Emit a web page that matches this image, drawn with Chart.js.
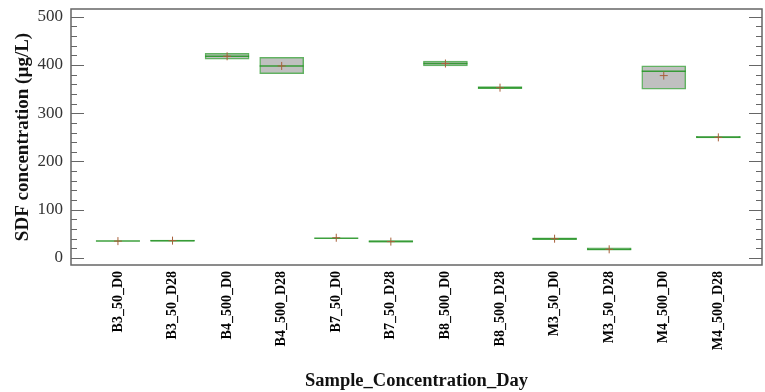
<!DOCTYPE html>
<html>
<head>
<meta charset="utf-8">
<script src="https://cdn.jsdelivr.net/npm/chart.js@4.4.1/dist/chart.umd.min.js"></script>
<style>
  html, body { margin: 0; padding: 0; background: #fff; }
  #wrap { width: 765px; height: 392px; }
</style>
</head>
<body>
<div id="wrap"><canvas id="c" width="765" height="392"></canvas></div>
<script>
// boîtes : q1 / q3, médiane et moyenne
const labels  = ['B3_50_D0', 'B3_50_D28', 'B4_500_D0', 'B4_500_D28', 'B7_50_D0', 'B7_50_D28',
                 'B8_500_D0', 'B8_500_D28', 'M3_50_D0', 'M3_50_D28', 'M4_500_D0', 'M4_500_D28'];
const q1      = [35, 35, 412, 382, 41, 33, 398, 351, 38, 16, 350, 249];
const q3      = [35, 37, 424, 416, 41, 36, 408, 355, 42, 21, 398, 252];
const medians = [35, 36, 418, 398, 41, 34, 403, 353, 40, 18, 387, 250];
const means   = [35, 36, 418, 398, 42, 34, 403, 353, 40, 18, 378, 250];
const yTicks  = [0, 100, 200, 300, 400, 500];

const serif = '"Liberation Serif", "Times New Roman", serif';

// cadre + graduations intérieures (majeures tous les 100, mineures tous les 20)
const framePlugin = {
    id: 'frame',
    afterDraw(chart) {
        const { ctx, chartArea: a, scales: { y } } = chart;
        ctx.save();
        ctx.strokeStyle = '#666';
        ctx.lineWidth = 1.5;
        ctx.strokeRect(a.left, a.top, a.right - a.left, a.bottom - a.top);
        ctx.lineWidth = 1.2;
        for (let v = 0; v <= 500; v += 20) {
            const py = Math.round(y.getPixelForValue(v)) + 0.5;
            const len = v % 100 === 0 ? 13 : 6;
            ctx.beginPath();
            ctx.moveTo(a.left, py); ctx.lineTo(a.left + len, py);
            ctx.moveTo(a.right, py); ctx.lineTo(a.right - len, py);
            ctx.stroke();
        }
        ctx.restore();
    }
};

new Chart(document.getElementById('c'), {
    type: 'bar',
    data: {
        datasets: [
            {
                label: 'IQR',
                data: labels.map((_, i) => ({ x: i, y: [q1[i], q3[i]] })),
                backgroundColor: '#c0c0c0',
                borderColor: 'rgba(70,165,70,0.85)',
                borderWidth: 1.5,
                borderSkipped: false,
                barThickness: 44,
                grouped: false,
                order: 3
            },
            {
                type: 'scatter',
                label: 'Médiane',
                data: labels.map((_, i) => ({ x: i, y: medians[i] })),
                pointStyle: 'line',
                radius: 22,
                borderColor: 'rgba(40,150,40,0.9)',
                borderWidth: 1.5,
                order: 2
            },
            {
                type: 'scatter',
                label: 'Moyenne',
                data: labels.map((_, i) => ({ x: i, y: means[i] })),
                pointStyle: 'cross',
                radius: 4,
                borderColor: '#a8603a',
                borderWidth: 1,
                order: 1
            }
        ]
    },
    options: {
        responsive: false,
        animation: false,
        layout: { autoPadding: false, padding: { top: 9, right: 3, left: 0, bottom: 0 } },
        plugins: { legend: { display: false }, tooltip: { enabled: false } },
        scales: {
            x: {
                type: 'linear',
                offset: false,
                min: -0.86, max: 11.8,
                grid: { display: false, drawTicks: false },
                border: { display: false },
                afterBuildTicks: s => { s.ticks = labels.map((_, i) => ({ value: i })); },
                afterFit: s => { s.height = 127; s.paddingLeft = 0; s.paddingRight = 0; },
                ticks: {
                    callback: v => labels[v] ?? '',
                    minRotation: 90, maxRotation: 90, autoSkip: false,
                    padding: 6,
                    color: '#000',
                    font: { family: serif, size: 14, weight: 'bold' }
                },
                title: {
                    display: true,
                    text: 'Sample_Concentration_Day',
                    color: '#111',
                    padding: { top: 0, bottom: 0 },
                    font: { family: serif, size: 18.5, weight: 'bold' }
                }
            },
            y: {
                min: -14.5, max: 516,
                grid: { display: false, drawTicks: false },
                border: { display: false },
                afterBuildTicks: s => { s.ticks = yTicks.map(v => ({ value: v })); },
                afterFit: s => { s.width = 71; s.paddingTop = 0; s.paddingBottom = 0; },
                ticks: {
                    padding: 8,
                    color: '#333',
                    font: { family: serif, size: 17 }
                },
                title: {
                    display: true,
                    text: 'SDF concentration (µg/L)',
                    color: '#111',
                    padding: { top: 12, bottom: 0 },
                    font: { family: serif, size: 19, weight: 'bold' }
                }
            }
        }
    },
    plugins: [framePlugin]
});
</script>
</body>
</html>
